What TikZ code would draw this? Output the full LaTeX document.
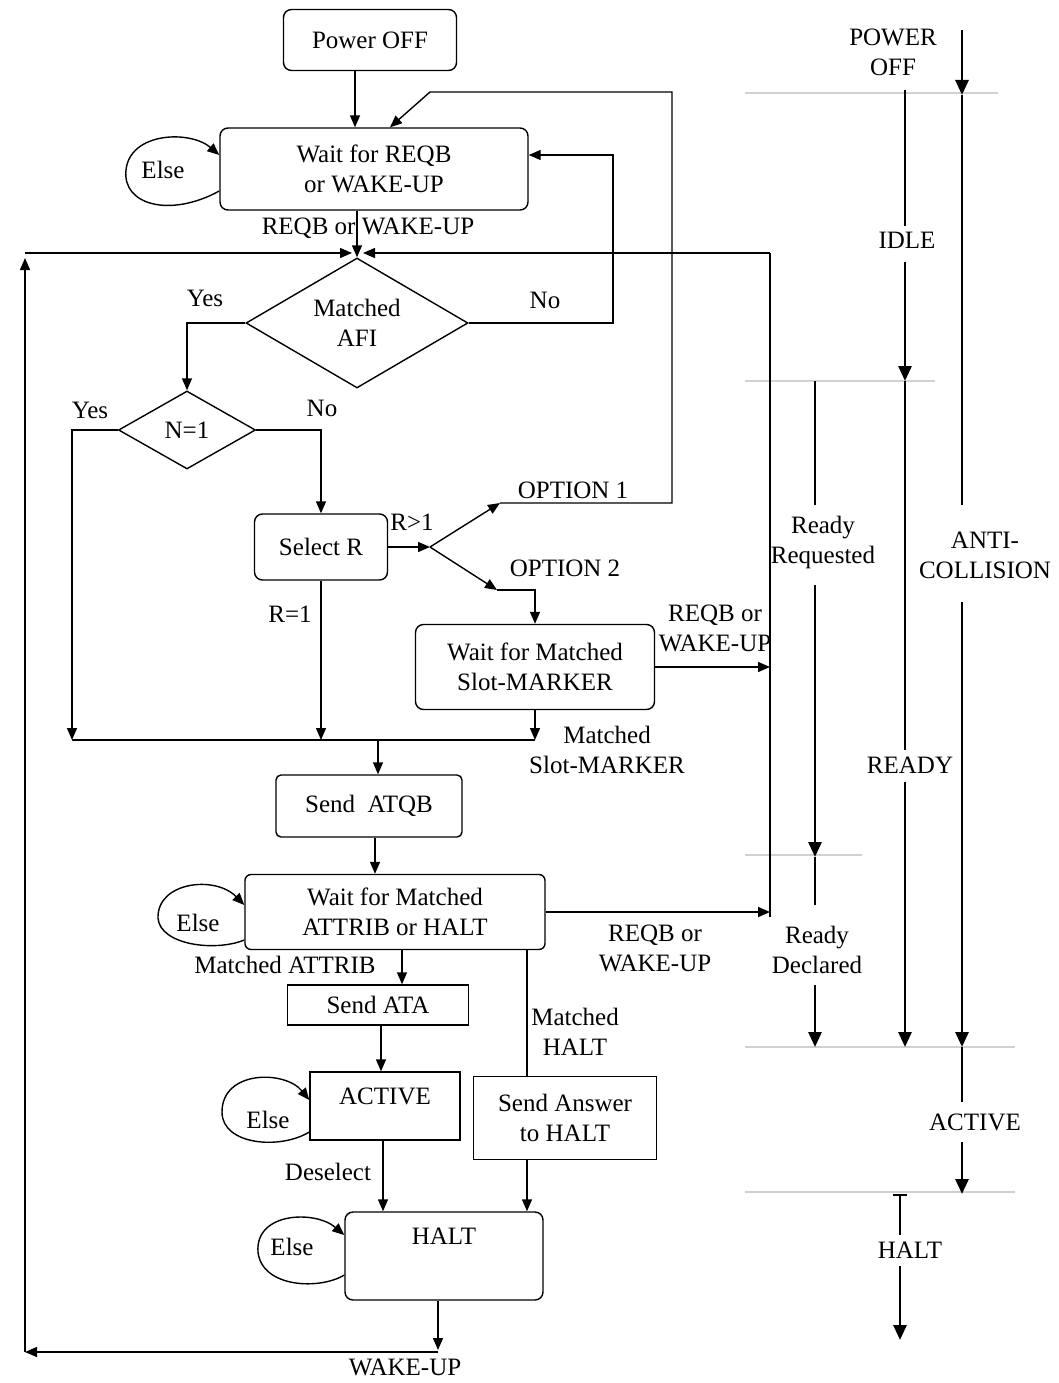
\documentclass[tikz,border=0pt]{standalone}
\usepackage{fontspec}
\setmainfont{Liberation Serif}
\usetikzlibrary{arrows.meta,shapes.geometric,calc}
\begin{document}
\begin{tikzpicture}[x=1pt,y=-1pt,
  every node/.style={font=\fontsize{25}{30}\selectfont, align=center, inner sep=0pt},
  box/.style={draw, line width=1.4pt, rounded corners=8pt},
  sbox/.style={draw, line width=1.4pt},
  dia/.style={draw, diamond, line width=1.4pt},
  arr/.style={line width=1.4pt, -{Triangle[length=12pt,width=10pt]}},
  ln/.style={line width=1.4pt},
  sarr/.style={line width=2.8pt, -{Triangle[length=15pt,width=13pt]}},
  sln/.style={line width=2.8pt},
  sepline/.style={line width=1.6pt, black!18},
]
\useasboundingbox (0,0) rectangle (1059,1383);

% separators (right column)
\draw[sepline] (745,93) -- (998,93);
\draw[sepline] (745,381) -- (935,381);
\draw[sepline] (745,855) -- (862,855);
\draw[sepline] (745,1047) -- (1015,1047);
\draw[sepline] (745,1192) -- (1015,1192);

% boxes
\node[box, minimum width=173pt, minimum height=61pt] (poff) at (370,40) {Power OFF};
\node[box, minimum width=308pt, minimum height=82pt] (wreqb) at (374,169) {Wait for REQB\\or WAKE-UP};
\node[dia, minimum width=222pt, minimum height=130pt, aspect=1.7] (afi) at (357,323) {Matched\\AFI};
\node[dia, minimum width=137pt, minimum height=78pt, aspect=1.75] (n1) at (187,430) {N=1};
\node[box, minimum width=133pt, minimum height=66pt] (selr) at (321,547) {Select R};
\node[box, minimum width=239pt, minimum height=85pt] (slot) at (535,667) {Wait for Matched\\Slot-MARKER};
\node[box, rounded corners=5pt, minimum width=186pt, minimum height=62pt] (atqb) at (369,806) {Send\ \ ATQB};
\node[box, rounded corners=6pt, minimum width=300pt, minimum height=75pt] (attrib) at (395,912) {Wait for Matched\\ATTRIB or HALT};
\node[sbox, minimum width=181pt, minimum height=40pt] (ata) at (378,1005) {Send ATA};
\node[sbox, minimum width=150pt, minimum height=68pt, label={[anchor=north, yshift=-16pt]north:ACTIVE}] (active) at (385,1106) {};
\node[sbox, minimum width=183pt, minimum height=83pt] (ans) at (565,1118) {Send Answer\\to HALT};
\node[box, minimum width=198pt, minimum height=88pt, label={[anchor=north, yshift=-16pt]north:HALT}] (halt) at (444,1256) {};

% Else labels
\node (e1) at (163,170) {Else};
\node (e2) at (198,923) {Else};
\node (e3) at (268,1120) {Else};
\node (e4) at (292,1247) {Else};

% connector labels
\node (l1) at (368,228) {REQB or WAKE-UP};
\node (l2) at (205,298) {Yes};
\node (l3) at (545,300) {No};
\node (l4) at (90,410) {Yes};
\node (l5) at (322,408) {No};
\node (l6) at (412,522) {R>1};
\node (l7) at (573,490) {OPTION 1};
\node (l8) at (565,568) {OPTION 2};
\node (l9) at (290,614) {R=1};
\node (l10) at (715,628) {REQB or\\WAKE-UP};
\node (l11) at (607,750) {Matched\\Slot-MARKER};
\node (l12) at (285,965) {Matched ATTRIB};
\node (l13) at (655,948) {REQB or\\WAKE-UP};
\node (l14) at (575,1032) {Matched\\HALT};
\node (l15) at (328,1172) {Deselect};
\node (l16) at (405,1367) {WAKE-UP};

% coordinates
\coordinate (q0) at (355,0);
\coordinate (q1) at (390,0);
\coordinate (o1) at (500,503);
\coordinate (o1r) at (672,503);
\coordinate (o1t) at (672,92);
\coordinate (o1l) at (430,92);
\coordinate (nox) at (613,155);
\coordinate (br) at (430,547);
\coordinate (o2) at (497,590);
\coordinate (ly) at (72,740);
\coordinate (qx) at (378,740);
\coordinate (q3) at (402,0);
\coordinate (q4) at (381,0);
\coordinate (q5) at (383,0);
\coordinate (q6) at (527,0);
\coordinate (wk) at (438,1350);
\coordinate (wkh) at (438,1352);
\coordinate (lb) at (25,1352);
\coordinate (lt) at (25,258);
\coordinate (lh) at (25,253);
\coordinate (mjl) at (352,253);
\coordinate (mjr) at (363,253);
\coordinate (rt) at (770,253);
\coordinate (rb) at (770,917);

% flowchart connectors
\draw[arr] (q0 |- poff.south) -- (q0 |- wreqb.north);
\draw[arr] (o1) -- (o1r) -- (o1t) -- (o1l) -- (q1 |- wreqb.north);
\draw[arr] (wreqb.south -| afi.north) -- (afi.north);
\draw[arr] (afi.east) -| (nox) -- (nox -| wreqb.east);
\draw[arr] (afi.west) -| (n1.north);
\draw[arr] (n1.west) -| (ly);
\draw[arr] (n1.east) -| (selr.north);
\draw[arr] (selr.east) -- (br);
\draw[arr] (br) -- (o1);
\draw[arr] (br) -- (o2);
\draw[arr] (o2) -| (slot.north);
\draw[arr] (selr.south) -- (selr.south |- ly);
\draw[arr] (slot.south) -- (slot.south |- ly);
\draw[ln] (ly) -- (ly -| slot.south);
\draw[arr] (qx) -- (qx |- atqb.north);
\coordinate (q2) at ($(atqb.south)+(6,0)$);
\draw[arr] (q2) -- (q2 |- attrib.north);
\draw[arr] (q3 |- attrib.south) -- (q3 |- ata.north);
\draw[arr] (q4 |- ata.south) -- (q4 |- active.north);
\draw[arr] (q5 |- active.south) -- (q5 |- halt.north);
\draw[ln] (q6 |- attrib.south) -- (q6 |- ans.north);
\draw[arr] (q6 |- ans.south) -- (q6 |- halt.north);
\draw[arr] (slot.east) -- (slot.east -| rb);
\draw[arr] (attrib.east) -- (attrib.east -| rb);
\draw[ln] (rb) -- (rt);
\draw[arr] (rt) -- (mjr);
\draw[arr] (halt.south -| wk) -- (wk);
\draw[arr] (wkh) -- (lb);
\draw[arr] (lb) -- (lt);
\draw[arr] (lh) -- (mjl);

% Else loops
\draw[arr] ([yshift=-22pt]wreqb.west) .. controls (170,218) and (122,205) .. (126,170) .. controls (130,132) and (190,130) .. ([yshift=14pt]wreqb.west);
\draw[arr] ([yshift=-28pt]attrib.west) .. controls (215,952) and (160,945) .. (158,918) .. controls (157,882) and (215,875) .. ([yshift=7pt]attrib.west);
\draw[arr] ([yshift=-26pt]active.west) .. controls (280,1150) and (222,1145) .. (222,1112) .. controls (222,1070) and (285,1070) .. ([yshift=6pt]active.west);
\draw[arr] ([yshift=-19pt]halt.west) .. controls (320,1290) and (262,1288) .. (258,1252) .. controls (255,1212) and (315,1210) .. ([yshift=21pt]halt.west);

% right column labels
\node (rpo) at (893,52) {POWER\\OFF};
\node (ridle) at (907,240) {IDLE};
\node (rrr) at (823,542) {Ready\\Requested};
\node (ranti) at (985,555) {ANTI-\\COLLISION};
\node (rready) at (910,765) {READY};
\node (rrd) at (817,950) {Ready\\Declared};
\node (ract) at (975,1122) {ACTIVE};
\node (rhalt) at (910,1250) {HALT};

% right column arrows
\coordinate (a1) at (962,30);
\coordinate (a2) at (962,95);
\coordinate (a3) at (962,505);
\coordinate (a4) at (962,602);
\coordinate (a5) at (962,1047);
\coordinate (a6) at (962,1102);
\coordinate (a7) at (962,1142);
\coordinate (a8) at (962,1194);
\draw[sarr] (a1) -- (a2);
\draw[sln] (a2) -- (a3);
\draw[sarr] (a4) -- (a5);
\draw[sln] (a5) -- (a6);
\draw[sarr] (a7) -- (a8);

\coordinate (b1) at (905,90);
\coordinate (b2) at (905,226);
\coordinate (b3) at (905,262);
\coordinate (b4) at (905,381);
\coordinate (b5) at (905,750);
\coordinate (b6) at (905,782);
\coordinate (b7) at (905,1047);
\draw[sln] (b1) -- (b2);
\draw[sarr] (b3) -- (b4);
\draw[sln] (b4) -- (b5);
\draw[sarr] (b6) -- (b7);

\coordinate (c1) at (815,381);
\coordinate (c2) at (815,505);
\coordinate (c3) at (815,585);
\coordinate (c4) at (815,857);
\coordinate (c5) at (815,905);
\coordinate (c6) at (815,985);
\coordinate (c7) at (815,1047);
\draw[sln] (c1) -- (c2);
\draw[sarr] (c3) -- (c4);
\draw[sln] (c4) -- (c5);
\draw[sarr] (c6) -- (c7);

\coordinate (d0l) at (893,1195);
\coordinate (d0r) at (907,1195);
\coordinate (d1) at (900,1195);
\coordinate (d2) at (900,1235);
\coordinate (d3) at (900,1266);
\coordinate (d4) at (900,1340);
\draw[ln] (d0l) -- (d0r);
\draw[sln] (d1) -- (d2);
\draw[sarr] (d3) -- (d4);
\end{tikzpicture}
\end{document}
